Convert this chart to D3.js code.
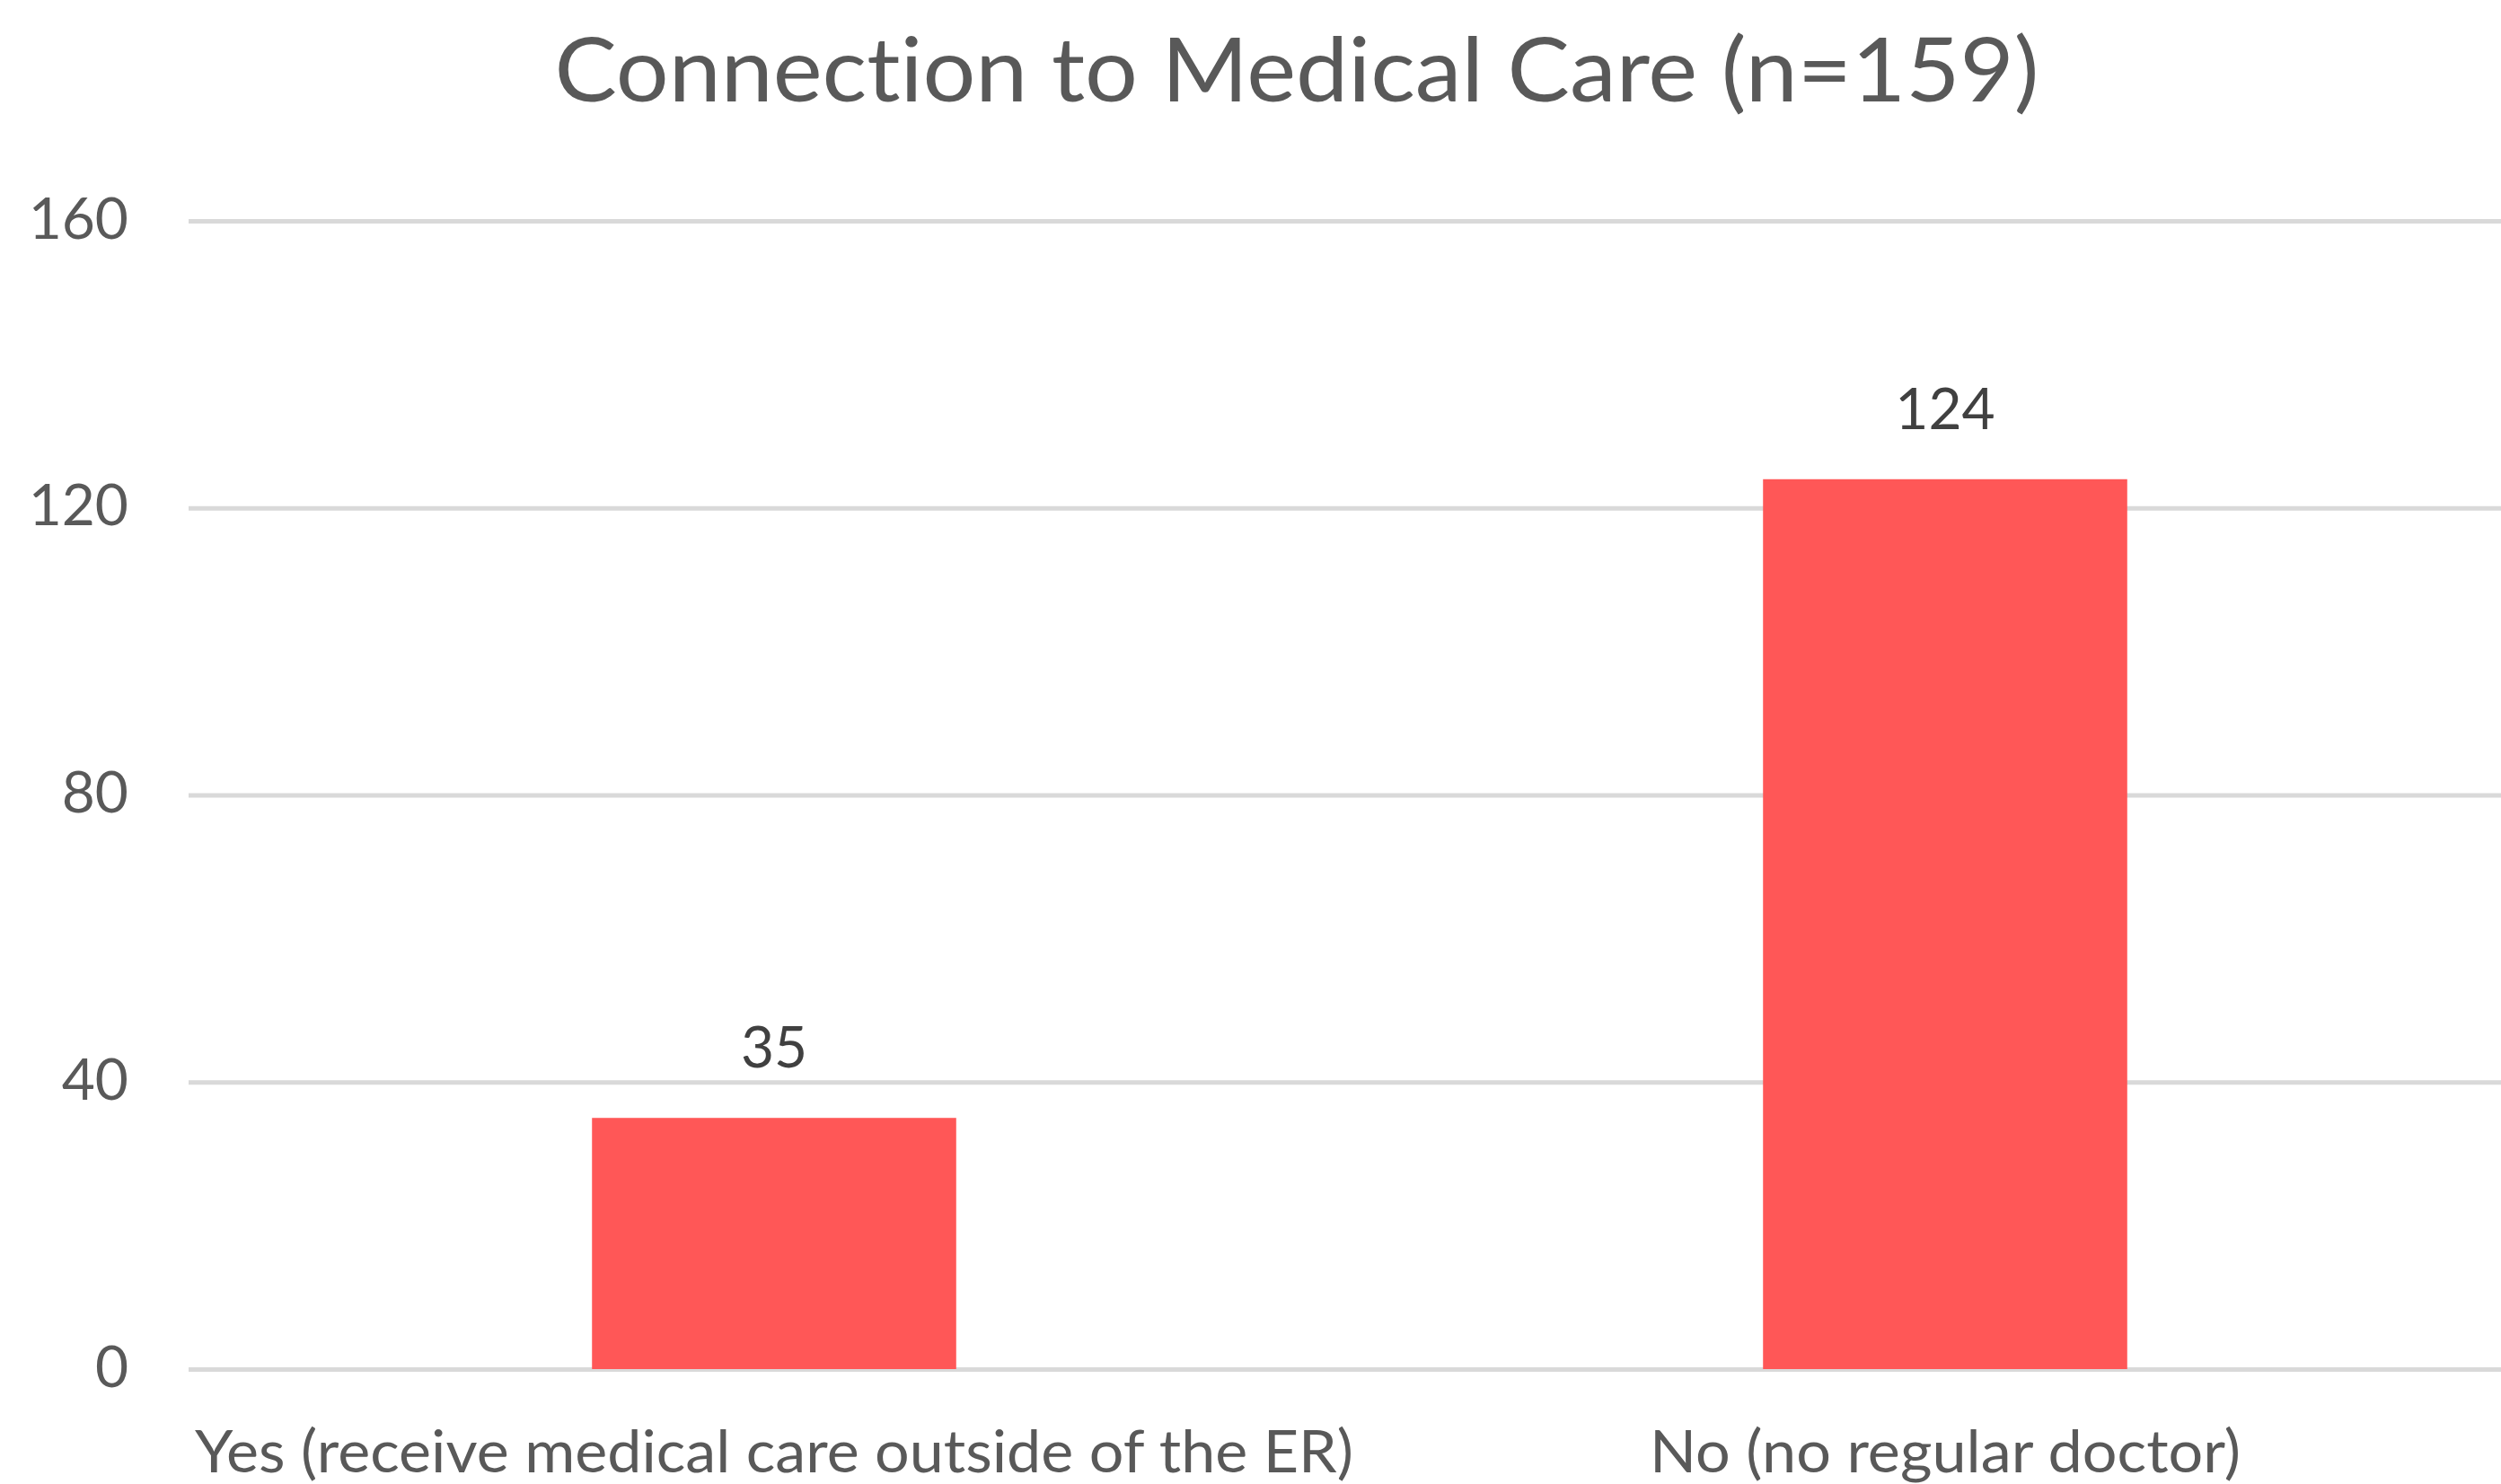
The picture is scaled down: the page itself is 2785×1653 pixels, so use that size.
<!DOCTYPE html>
<html>
<head>
<meta charset="utf-8">
<script src="https://cdn.jsdelivr.net/npm/d3@7"></script>
<style>
  html, body { margin: 0; padding: 0; background: #ffffff; }
  svg { display: block; }
  text { font-variant-ligatures: none; font-feature-settings: "liga" 0, "clig" 0; }
</style>
</head>
<body>
<svg id="chart" width="2785" height="1653"></svg>
<script>
const titleText = "Connection to Medical Care (n=159)";
const categories = ["Yes (receive medical care outside of the ER)", "No (no regular doctor)"];
const values = [35, 124];
const yTicks = [0, 40, 80, 120, 160];

const W = 2785, H = 1653;
const plotLeft = 210, plotRight = 2818, plotTop = 246, plotBottom = 1525;
const FONT = "Lato, 'Open Sans', 'Noto Sans', sans-serif";

const svg = d3.select("#chart");
svg.append("rect").attr("width", W).attr("height", H).attr("fill", "#ffffff");

const x = d3.scaleBand()
  .domain(categories)
  .range([plotLeft, plotRight])
  .paddingInner(0.689)
  .paddingOuter(0.689 / 2);

const y = d3.scaleLinear().domain([0, 160]).range([plotBottom, plotTop]);

// gridlines + tick labels via axis
const yAxis = d3.axisLeft(y)
  .tickValues(yTicks)
  .tickSize(-(W - plotLeft))
  .tickPadding(67)
  .tickFormat(d3.format("d"));

const gAxis = svg.append("g")
  .attr("transform", `translate(${plotLeft},0)`)
  .call(yAxis);
gAxis.select(".domain").remove();
gAxis.selectAll(".tick line")
  .attr("stroke", "#D9D9D9")
  .attr("stroke-width", 5);
gAxis.selectAll(".tick text")
  .attr("fill", "#595959")
  .attr("font-family", FONT)
  .attr("font-size", 64)
  .attr("dy", "0.30em");

// bars
svg.append("g").selectAll("rect")
  .data(values)
  .join("rect")
  .attr("x", (d, i) => x(categories[i]))
  .attr("width", x.bandwidth())
  .attr("y", d => y(d))
  .attr("height", d => y(0) - y(d))
  .attr("fill", "#FF5757");

// value labels
svg.append("g").selectAll("text")
  .data(values)
  .join("text")
  .attr("x", (d, i) => x(categories[i]) + x.bandwidth() / 2)
  .attr("y", d => y(d) - 56)
  .attr("text-anchor", "middle")
  .attr("fill", "#404040")
  .attr("font-family", FONT)
  .attr("font-size", 64)
  .text(d => d);

// category labels
const catWidths = [1290, 658];
svg.append("g").selectAll("text")
  .data(categories)
  .join("text")
  .attr("x", d => x(d) + x.bandwidth() / 2)
  .attr("y", 1640)
  .attr("text-anchor", "middle")
  .attr("fill", "#595959")
  .attr("font-family", FONT)
  .attr("font-size", 66)
  .attr("textLength", (d, i) => catWidths[i])
  .attr("lengthAdjust", "spacingAndGlyphs")
  .text(d => d);

// title
svg.append("text")
  .attr("x", 1444)
  .attr("y", 113)
  .attr("text-anchor", "middle")
  .attr("fill", "#595959")
  .attr("font-family", FONT)
  .attr("font-size", 98)
  .attr("textLength", 1653)
  .attr("lengthAdjust", "spacingAndGlyphs")
  .text(titleText);
</script>
</body>
</html>
